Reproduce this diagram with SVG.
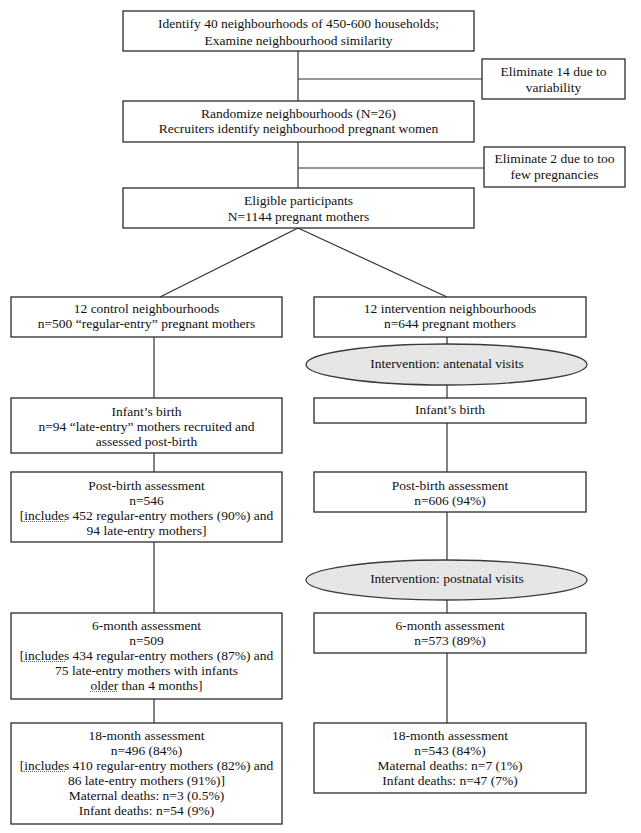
<svg xmlns="http://www.w3.org/2000/svg" width="641" height="833" viewBox="0 0 641 833">
<style>
.box{fill:#fff;stroke:#2a2a2a;stroke-width:1.3}
.ell{fill:#e6e6e6;stroke:#3a3a3a;stroke-width:1.3}
.t{font-family:"Liberation Serif","Times New Roman",serif;font-size:13.5px;fill:#111;text-anchor:middle}
.c{stroke:#333;stroke-width:1.2;fill:none}
.u{stroke:#666;stroke-width:1;stroke-dasharray:1 1;fill:none}
</style>
<rect width="641" height="833" fill="#fff"/>
<g id="connectors">
<path class="c" d="M298,51V101M298,79H482M298,142V188M298,168H484M298,228L160,297M298,228L447,297"/>
<path class="c" d="M154,337V398M154,453V472M154,542V613M154,699V723"/>
<path class="c" d="M447,337V344M447,385V398M447,423V560M447,600V613M447,653V723"/>
</g>
<g id="n1"><rect class="box" x="123" y="11" width="351" height="40"/>
<text class="t" x="298.5" y="28">Identify 40 neighbourhoods  of 450-600 households;</text>
<text class="t" x="298.5" y="45">Examine  neighbourhood  similarity</text></g>
<g id="n2"><rect class="box" x="482" y="59" width="143" height="40"/>
<text class="t" x="553.5" y="75.5">Eliminate  14 due to</text>
<text class="t" x="553.5" y="91.5">variability</text></g>
<g id="n3"><rect class="box" x="123" y="101" width="351" height="41"/>
<text class="t" x="298.5" y="117.5">Randomize  neighbourhoods  (N=26)</text>
<text class="t" x="298.5" y="132.5">Recruiters  identify  neighbourhood  pregnant  women</text></g>
<g id="n4"><rect class="box" x="484" y="147" width="141" height="40"/>
<text class="t" x="554.5" y="162.5">Eliminate  2 due to too</text>
<text class="t" x="554.5" y="178.5">few pregnancies</text></g>
<g id="n5"><rect class="box" x="123" y="188" width="351" height="40"/>
<text class="t" x="298.5" y="204.5">Eligible  participants</text>
<text class="t" x="298.5" y="220.5">N=1144 pregnant  mothers</text></g>
<g id="n6"><rect class="box" x="11" y="297" width="271" height="40"/>
<text class="t" x="146.5" y="312.5">12 control  neighbourhoods</text>
<text class="t" x="146.5" y="327.5">n=500 “regular-entry”  pregnant  mothers</text></g>
<g id="n7"><rect class="box" x="314" y="297" width="272" height="40"/>
<text class="t" x="450" y="312.5">12 intervention  neighbourhoods</text>
<text class="t" x="450" y="327.5">n=644 pregnant  mothers</text></g>
<g id="n8"><ellipse class="ell" cx="446.5" cy="364.5" rx="140.5" ry="20.5"/>
<text class="t" x="447" y="367.5">Intervention:  antenatal  visits</text></g>
<g id="n9"><rect class="box" x="11" y="398" width="271" height="55"/>
<text class="t" x="146.5" y="415.5">Infant’s birth</text>
<text class="t" x="146.5" y="430.5">n=94 “late-entry”  mothers recruited  and</text>
<text class="t" x="146.5" y="445.5">assessed post-birth</text></g>
<g id="n10"><rect class="box" x="314" y="398" width="272" height="25"/>
<text class="t" x="450" y="413.5">Infant’s birth</text></g>
<g id="n11"><rect class="box" x="11" y="472" width="271" height="70"/>
<text class="t" x="146.5" y="489.5">Post-birth assessment</text>
<text class="t" x="146.5" y="504.5">n=546</text>
<text class="t" x="146.5" y="519.5">[includes  452 regular-entry  mothers  (90%) and</text>
<text class="t" x="146.5" y="534.5">94 late-entry  mothers]</text>
<path class="u" d="M22,521.5H65"/></g>
<g id="n12"><rect class="box" x="314" y="472" width="272" height="40"/>
<text class="t" x="450" y="489.5">Post-birth assessment</text>
<text class="t" x="450" y="504.5">n=606 (94%)</text></g>
<g id="n13"><ellipse class="ell" cx="446.5" cy="580" rx="140.5" ry="20"/>
<text class="t" x="447" y="582.5">Intervention:  postnatal  visits</text></g>
<g id="n14"><rect class="box" x="11" y="613" width="271" height="86"/>
<text class="t" x="146.5" y="629.5">6-month assessment</text>
<text class="t" x="146.5" y="644.5">n=509</text>
<text class="t" x="146.5" y="659.5">[includes  434 regular-entry  mothers  (87%) and</text>
<text class="t" x="146.5" y="674.5">75 late-entry  mothers  with infants</text>
<text class="t" x="146.5" y="689.5">older  than 4 months]</text>
<path class="u" d="M22,661.5H65M90,691.5H118"/></g>
<g id="n15"><rect class="box" x="314" y="613" width="272" height="40"/>
<text class="t" x="450" y="629.5">6-month assessment</text>
<text class="t" x="450" y="644.5">n=573 (89%)</text></g>
<g id="n16"><rect class="box" x="11" y="723" width="271" height="101"/>
<text class="t" x="146.5" y="739.5">18-month  assessment</text>
<text class="t" x="146.5" y="754.5">n=496 (84%)</text>
<text class="t" x="146.5" y="769.5">[includes  410 regular-entry  mothers  (82%) and</text>
<text class="t" x="146.5" y="784.5">86 late-entry  mothers  (91%)]</text>
<text class="t" x="146.5" y="799.5">Maternal  deaths:  n=3 (0.5%)</text>
<text class="t" x="146.5" y="814.5">Infant deaths:  n=54 (9%)</text>
<path class="u" d="M22,771.5H65"/></g>
<g id="n17"><rect class="box" x="314" y="723" width="272" height="70"/>
<text class="t" x="450" y="739.5">18-month  assessment</text>
<text class="t" x="450" y="754.5">n=543 (84%)</text>
<text class="t" x="450" y="769.5">Maternal  deaths:  n=7 (1%)</text>
<text class="t" x="450" y="784.5">Infant deaths:  n=47 (7%)</text></g>
</svg>
